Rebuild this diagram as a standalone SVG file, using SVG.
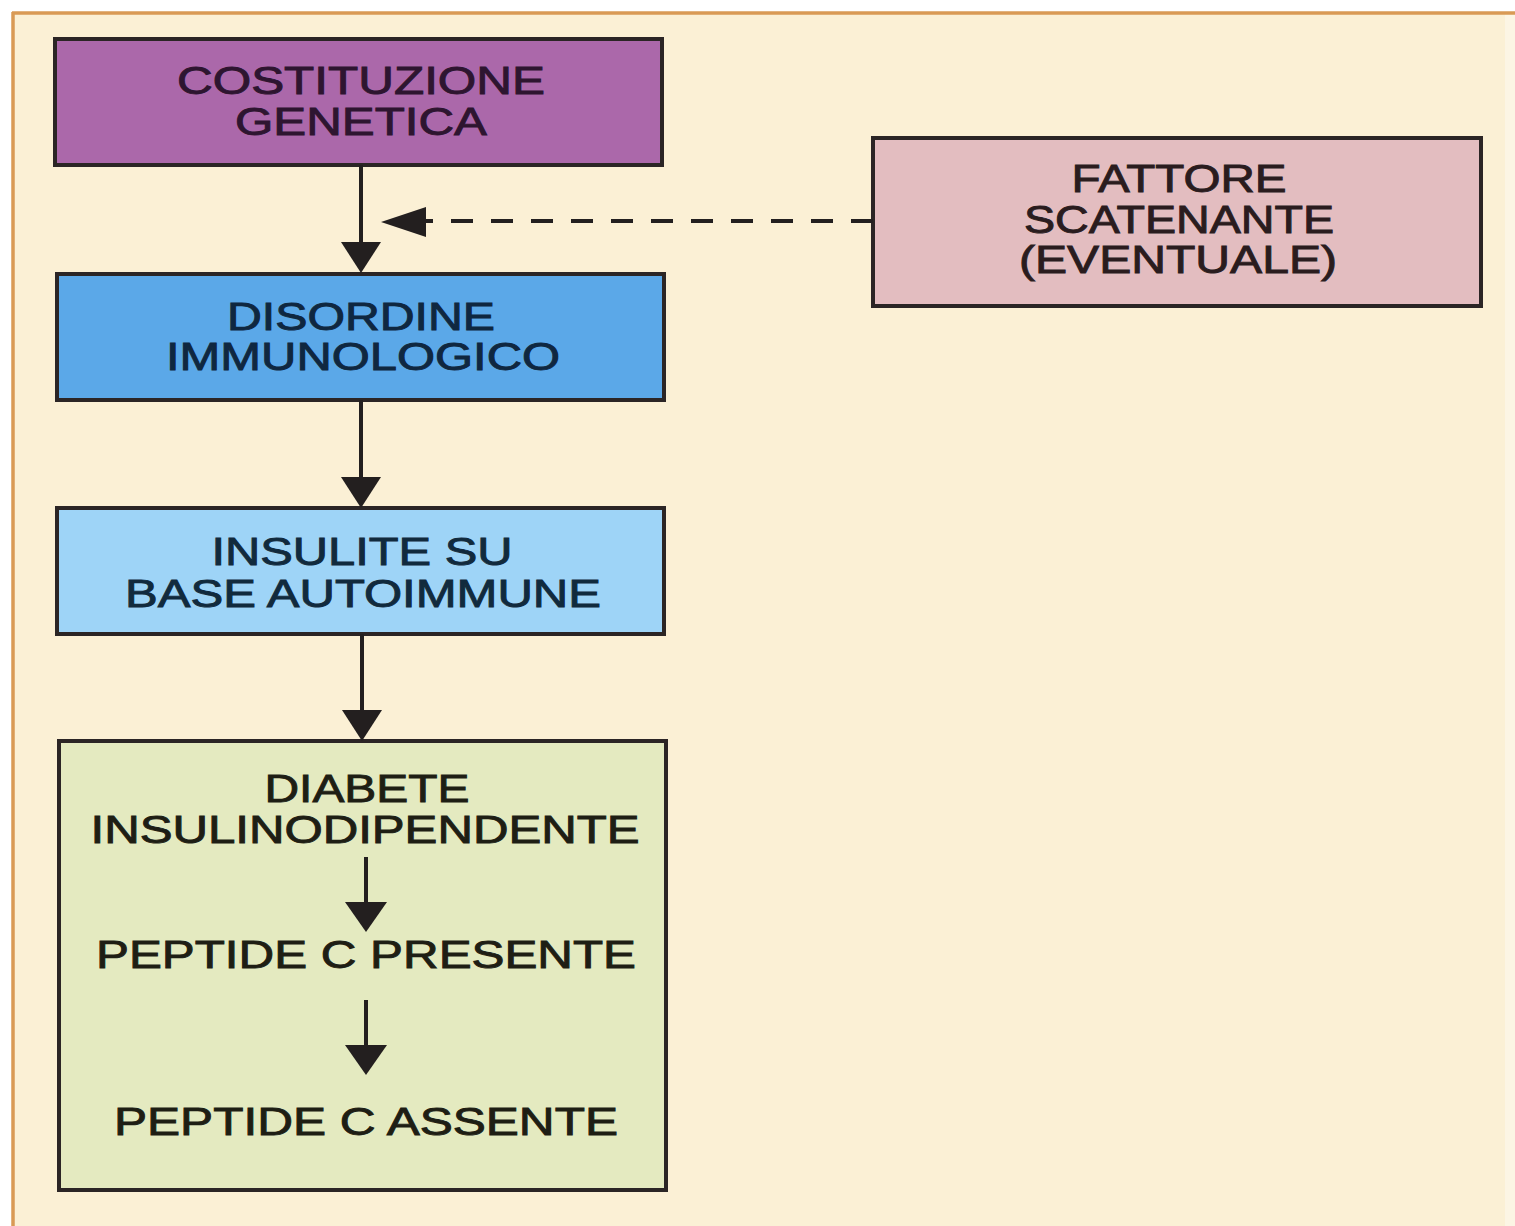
<svg xmlns="http://www.w3.org/2000/svg" width="1515" height="1226" viewBox="0 0 1515 1226">
<style>
.box{stroke:#2b2525;stroke-width:4}
.t{font-family:"Liberation Sans",Arial,Helvetica,sans-serif;font-size:38px;text-anchor:middle;stroke-width:0.9;paint-order:stroke}
.conn{stroke:#231f1f;stroke-width:4;fill:none}
.dash{stroke:#231f1f;stroke-width:4;fill:none;stroke-dasharray:22 18}
.head{fill:#231f1f}
</style>
<rect x="0" y="0" width="1515" height="1226" fill="#ffffff"/>
<rect x="12" y="12" width="1503" height="1214" fill="#FBF0D5"/>
<rect x="1505" y="14" width="10" height="1212" fill="#FCF5E4"/>
<line x1="12" y1="13" x2="1515" y2="13" stroke="#D99A55" stroke-width="3.5"/>
<line x1="13" y1="12" x2="13" y2="1226" stroke="#D99A55" stroke-width="3.5"/>

<g id="costituzione">
<rect class="box" x="55" y="39" width="607" height="126" fill="#AB68AA"/>
<text class="t" fill="#2E1530" stroke="#2E1530" x="361" y="94" textLength="368" lengthAdjust="spacingAndGlyphs">COSTITUZIONE</text>
<text class="t" fill="#2E1530" stroke="#2E1530" x="361" y="135" textLength="252" lengthAdjust="spacingAndGlyphs">GENETICA</text>
</g>

<g id="disordine">
<rect class="box" x="57" y="274" width="607" height="126" fill="#5BA8E8"/>
<text class="t" fill="#0F2740" stroke="#0F2740" x="361" y="330" textLength="268" lengthAdjust="spacingAndGlyphs">DISORDINE</text>
<text class="t" fill="#0F2740" stroke="#0F2740" x="363" y="370" textLength="394" lengthAdjust="spacingAndGlyphs">IMMUNOLOGICO</text>
</g>

<g id="insulite">
<rect class="box" x="57" y="508" width="607" height="126" fill="#9ED4F7"/>
<text class="t" fill="#112A3D" stroke="#112A3D" x="362" y="565" textLength="301" lengthAdjust="spacingAndGlyphs">INSULITE SU</text>
<text class="t" fill="#112A3D" stroke="#112A3D" x="363" y="607" textLength="476" lengthAdjust="spacingAndGlyphs">BASE AUTOIMMUNE</text>
</g>

<g id="fattore">
<rect class="box" x="873" y="138" width="608" height="168" fill="#E3BDC0"/>
<text class="t" fill="#2A1C1E" stroke="#2A1C1E" x="1179" y="192" textLength="215" lengthAdjust="spacingAndGlyphs">FATTORE</text>
<text class="t" fill="#2A1C1E" stroke="#2A1C1E" x="1179" y="233" textLength="310" lengthAdjust="spacingAndGlyphs">SCATENANTE</text>
<text class="t" fill="#2A1C1E" stroke="#2A1C1E" x="1178" y="273" textLength="318" lengthAdjust="spacingAndGlyphs">(EVENTUALE)</text>
</g>

<g id="diabete">
<rect class="box" x="59" y="741" width="607" height="449" fill="#E4EAC0"/>
<text class="t" fill="#1E1E14" stroke="#1E1E14" x="367" y="802" textLength="205" lengthAdjust="spacingAndGlyphs">DIABETE</text>
<text class="t" fill="#1E1E14" stroke="#1E1E14" x="365" y="843" textLength="549" lengthAdjust="spacingAndGlyphs">INSULINODIPENDENTE</text>
<text class="t" fill="#1E1E14" stroke="#1E1E14" x="366" y="968" textLength="540" lengthAdjust="spacingAndGlyphs">PEPTIDE C PRESENTE</text>
<text class="t" fill="#1E1E14" stroke="#1E1E14" x="366" y="1135" textLength="504" lengthAdjust="spacingAndGlyphs">PEPTIDE C ASSENTE</text>
</g>

<g id="connectors">
<line class="conn" x1="361" y1="165" x2="361" y2="246"/>
<polygon class="head" points="341,242 381,242 361,273"/>
<line class="conn" x1="361" y1="400" x2="361" y2="481"/>
<polygon class="head" points="341,477 381,477 361,508"/>
<line class="conn" x1="362" y1="634" x2="362" y2="714"/>
<polygon class="head" points="342,710 382,710 362,741"/>
<line class="dash" x1="873" y1="221" x2="424" y2="221"/>
<polygon class="head" points="426,207 426,237 381,222"/>
<line class="conn" x1="366" y1="857" x2="366" y2="905"/>
<polygon class="head" points="345,902 387,902 366,932"/>
<line class="conn" x1="366" y1="1000" x2="366" y2="1048"/>
<polygon class="head" points="345,1045 387,1045 366,1075"/>
</g>
</svg>
